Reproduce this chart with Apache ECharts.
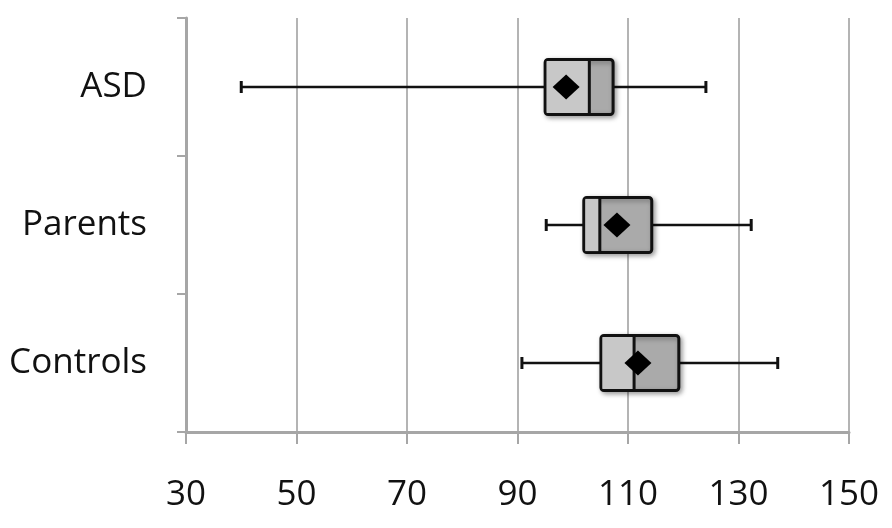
<!DOCTYPE html>
<html><head><meta charset="utf-8">
<script src="https://cdn.jsdelivr.net/npm/echarts@6/dist/echarts.min.js"></script>
<style>html,body{margin:0;padding:0;background:#fff}#c{width:892px;height:528px}</style>
</head><body><div id="c"></div>
<script>
const categories = ['ASD', 'Parents', 'Controls'];
const whiskerLow = [40, 95.2, 90.8];
const q1 = [95, 102, 105.1];
const median = [103, 104.9, 111.1];
const q3 = [107.3, 114.3, 119.2];
const whiskerHigh = [124.1, 132.3, 137.1];
const mean = [98.8, 108, 111.8];
const xTicks = [30, 50, 70, 90, 110, 130, 150];

const boxData = categories.map((c, i) => [i, whiskerLow[i], q1[i], median[i], q3[i], whiskerHigh[i]]);
const meanData = categories.map((c, i) => [mean[i], i]);

const chart = echarts.init(document.getElementById('c'), null, {renderer: 'canvas'});
const FONT = 'Open Sans';
chart.setOption({
  animation: false,
  backgroundColor: '#fff',
  grid: {left: 186, right: 43, top: 18, bottom: 96, containLabel: false},
  xAxis: {
    type: 'value', min: xTicks[0], max: xTicks[xTicks.length - 1], interval: 20,
    axisLine: {show: true, lineStyle: {color: '#a6a6a6', width: 3}},
    axisTick: {show: true, length: 12, lineStyle: {color: '#a6a6a6', width: 2}},
    splitLine: {show: true, lineStyle: {color: '#b4b4b4', width: 2}},
    axisLabel: {color: '#111', fontSize: 35, fontFamily: FONT, margin: 46}
  },
  yAxis: {
    type: 'category', data: categories, inverse: true,
    axisLine: {show: true, lineStyle: {color: '#a6a6a6', width: 3}},
    axisTick: {show: true, length: 9, lineStyle: {color: '#a6a6a6', width: 2}},
    splitLine: {show: false},
    axisLabel: {color: '#111', fontSize: 35, fontFamily: FONT, margin: 39}
  },
  series: [
    {
      type: 'custom',
      data: boxData,
      encode: {y: 0, x: [1, 2, 3, 4, 5]},
      renderItem: function (params, api) {
        const ci = api.value(0);
        const pLow = api.coord([api.value(1), ci]);
        const pQ1 = api.coord([api.value(2), ci]);
        const pMed = api.coord([api.value(3), ci]);
        const pQ3 = api.coord([api.value(4), ci]);
        const pHigh = api.coord([api.value(5), ci]);
        const band = api.size([0, 1])[1];
        const h = band * 0.4;
        const cy = pQ1[1];
        const top = cy - h / 2;
        const cap = 6;
        const lineStyle = {stroke: '#111', lineWidth: 2.5};
        return {
          type: 'group',
          children: [
            {type: 'line', shape: {x1: pLow[0], y1: cy, x2: pQ1[0], y2: cy}, style: lineStyle},
            {type: 'line', shape: {x1: pQ3[0], y1: cy, x2: pHigh[0], y2: cy}, style: lineStyle},
            {type: 'line', shape: {x1: pLow[0], y1: cy - cap, x2: pLow[0], y2: cy + cap}, style: {stroke: '#111', lineWidth: 3}},
            {type: 'line', shape: {x1: pHigh[0], y1: cy - cap, x2: pHigh[0], y2: cy + cap}, style: {stroke: '#111', lineWidth: 3}},
            {type: 'rect', shape: {x: pQ1[0], y: top, width: pQ3[0] - pQ1[0], height: h, r: 3},
              style: {fill: '#aaaaaa', stroke: '#111', lineWidth: 3, shadowBlur: 5, shadowColor: 'rgba(0,0,0,0.35)', shadowOffsetX: 2, shadowOffsetY: 2}},
            {type: 'rect', shape: {x: pQ1[0] + 1.5, y: top + 1.5, width: pMed[0] - pQ1[0] - 1.5, height: h - 3},
              style: {fill: '#c8c8c8'}},
            {type: 'line', shape: {x1: pMed[0], y1: top, x2: pMed[0], y2: top + h}, style: {stroke: '#111', lineWidth: 3}}
          ]
        };
      },
      z: 3
    },
    {
      type: 'scatter',
      data: meanData,
      symbol: 'diamond',
      symbolSize: [27, 25],
      itemStyle: {color: '#000', opacity: 1},
      z: 5
    }
  ]
});
</script></body></html>
